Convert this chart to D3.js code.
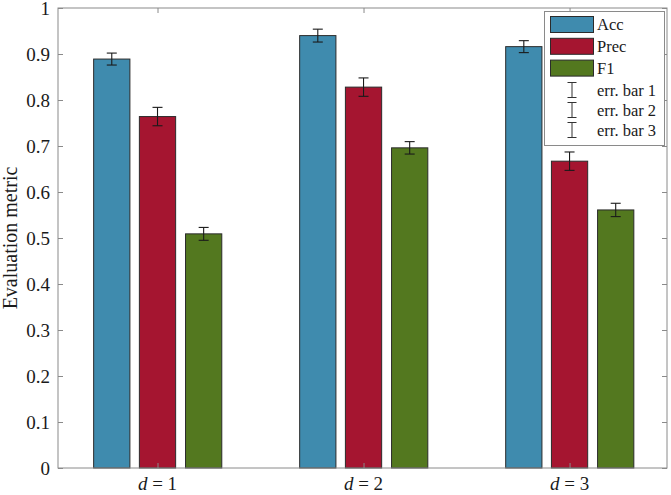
<!DOCTYPE html>
<html>
<head>
<meta charset="utf-8">
<script src="https://cdn.jsdelivr.net/npm/d3@7"></script>
<style>
  html, body { margin: 0; padding: 0; background: #fff; }
  svg { display: block; }
  text { font-family: "Liberation Serif", "Times New Roman", serif; fill: #1a1a1a; }
</style>
</head>
<body>
<svg id="chart" width="671" height="495"></svg>
<script>
// ---- data ----
const categories = [1, 2, 3];
const seriesNames = ["Acc", "Prec", "F1"];
const accValues  = [0.889, 0.940, 0.916];
const precValues = [0.764, 0.828, 0.667];
const f1Values   = [0.509, 0.696, 0.561];
const accErr  = [0.013, 0.014, 0.013];
const precErr = [0.020, 0.020, 0.020];
const f1Err   = [0.014, 0.0135, 0.0145];
const yTicks = [0, 0.1, 0.2, 0.3, 0.4, 0.5, 0.6, 0.7, 0.8, 0.9, 1];
const errLegend = ["err. bar 1", "err. bar 2", "err. bar 3"];

const colors = ["#3f8bae", "#a51530", "#53781f"];
const values = [accValues, precValues, f1Values];
const errs = [accErr, precErr, f1Err];

const svg = d3.select("#chart");
const L = 58, R = 667, T = 8, B = 468;

const x = d3.scaleLinear().domain([0.517, 3.473]).range([L, R]);
const y = d3.scaleLinear().domain([0, 1]).range([B, T]);
const offsets = [-0.222, 0, 0.224];
const barW = 0.176;
const axisColor = "#8a8a8a";

// bars
seriesNames.forEach((s, si) => {
  const g = svg.append("g");
  g.selectAll("rect").data(categories).enter().append("rect")
    .attr("x", (c) => x(c + offsets[si] - barW / 2))
    .attr("width", x(barW) - x(0))
    .attr("y", (c, i) => y(values[si][i]))
    .attr("height", (c, i) => y(0) - y(values[si][i]))
    .attr("fill", colors[si])
    .attr("stroke", "#2b2b2b")
    .attr("stroke-width", 1);
});

// error bars
seriesNames.forEach((s, si) => {
  const g = svg.append("g").attr("stroke", "#1a1a1a").attr("stroke-width", 1.1);
  categories.forEach((c, i) => {
    const cx = x(c + offsets[si]);
    const v = values[si][i], e = errs[si][i];
    const y1 = y(v + e), y2 = y(v - e);
    g.append("line").attr("x1", cx).attr("x2", cx).attr("y1", y1).attr("y2", y2);
    g.append("line").attr("x1", cx - 5).attr("x2", cx + 5).attr("y1", y1).attr("y2", y1);
    g.append("line").attr("x1", cx - 5).attr("x2", cx + 5).attr("y1", y2).attr("y2", y2);
  });
});

// axes box
const box = svg.append("g").attr("stroke", axisColor).attr("fill", "none").attr("stroke-width", 1);
box.append("rect").attr("x", L).attr("y", T).attr("width", R - L).attr("height", B - T);

// y axis (left), ticks inward
const yAxis = d3.axisLeft(y).tickValues(yTicks).tickFormat(d3.format("")).tickSizeInner(-5).tickSizeOuter(0).tickPadding(8);
const gy = svg.append("g").attr("transform", `translate(${L},0)`).call(yAxis);
gy.select(".domain").remove();
gy.selectAll(".tick line").attr("stroke", axisColor);
gy.selectAll(".tick text").attr("font-size", 19).attr("fill", "#1a1a1a")
  .style("font-family", '"Liberation Serif", "Times New Roman", serif');

// y axis (right), ticks inward
const yAxisR = d3.axisRight(y).tickValues(yTicks).tickFormat("").tickSizeInner(-5).tickSizeOuter(0);
const gyr = svg.append("g").attr("transform", `translate(${R},0)`).call(yAxisR);
gyr.select(".domain").remove();
gyr.selectAll(".tick line").attr("stroke", axisColor);

// x axis bottom
const xAxis = d3.axisBottom(x).tickValues(categories).tickFormat("").tickSizeInner(-5).tickSizeOuter(0);
const gx = svg.append("g").attr("transform", `translate(0,${B})`).call(xAxis);
gx.select(".domain").remove();
gx.selectAll(".tick line").attr("stroke", axisColor);
const xAxisT = d3.axisTop(x).tickValues(categories).tickFormat("").tickSizeInner(-5).tickSizeOuter(0);
const gxt = svg.append("g").attr("transform", `translate(0,${T})`).call(xAxisT);
gxt.select(".domain").remove();
gxt.selectAll(".tick line").attr("stroke", axisColor);

// x labels "d = n"
const xl = svg.append("g");
categories.forEach((c) => {
  const t = xl.append("text").attr("x", x(c)).attr("y", 490)
    .attr("text-anchor", "middle").attr("font-size", 19);
  t.append("tspan").attr("font-style", "italic").text("d");
  t.append("tspan").text(" = " + c);
});

// y label
svg.append("text")
  .attr("transform", `translate(17,${(T + B) / 2}) rotate(-90)`)
  .attr("text-anchor", "middle").attr("font-size", 20)
  .text("Evaluation metric");

// legend
const lg = svg.append("g");
lg.append("rect").attr("x", 544.5).attr("y", 11.5).attr("width", 120).attr("height", 134)
  .attr("fill", "#fff").attr("stroke", axisColor).attr("stroke-width", 1);
seriesNames.forEach((s, i) => {
  const yc = 24.5 + i * 21.8;
  lg.append("rect").attr("x", 550.5).attr("y", yc - 8).attr("width", 43).attr("height", 16)
    .attr("fill", colors[i]).attr("stroke", "#2b2b2b").attr("stroke-width", 1);
  lg.append("text").attr("x", 597).attr("y", yc).attr("dy", "0.35em")
    .attr("font-size", 16.5).text(s);
});
errLegend.forEach((s, i) => {
  const yc = 90 + i * 20;
  const eg = lg.append("g").attr("stroke", "#333").attr("stroke-width", 1);
  eg.append("line").attr("x1", 572).attr("x2", 572).attr("y1", yc - 7.5).attr("y2", yc + 7.5);
  eg.append("line").attr("x1", 567.5).attr("x2", 576.5).attr("y1", yc - 7.5).attr("y2", yc - 7.5);
  eg.append("line").attr("x1", 567.5).attr("x2", 576.5).attr("y1", yc + 7.5).attr("y2", yc + 7.5);
  lg.append("text").attr("x", 597).attr("y", yc).attr("dy", "0.35em")
    .attr("font-size", 16.5).text(s);
});
</script>
</body>
</html>
